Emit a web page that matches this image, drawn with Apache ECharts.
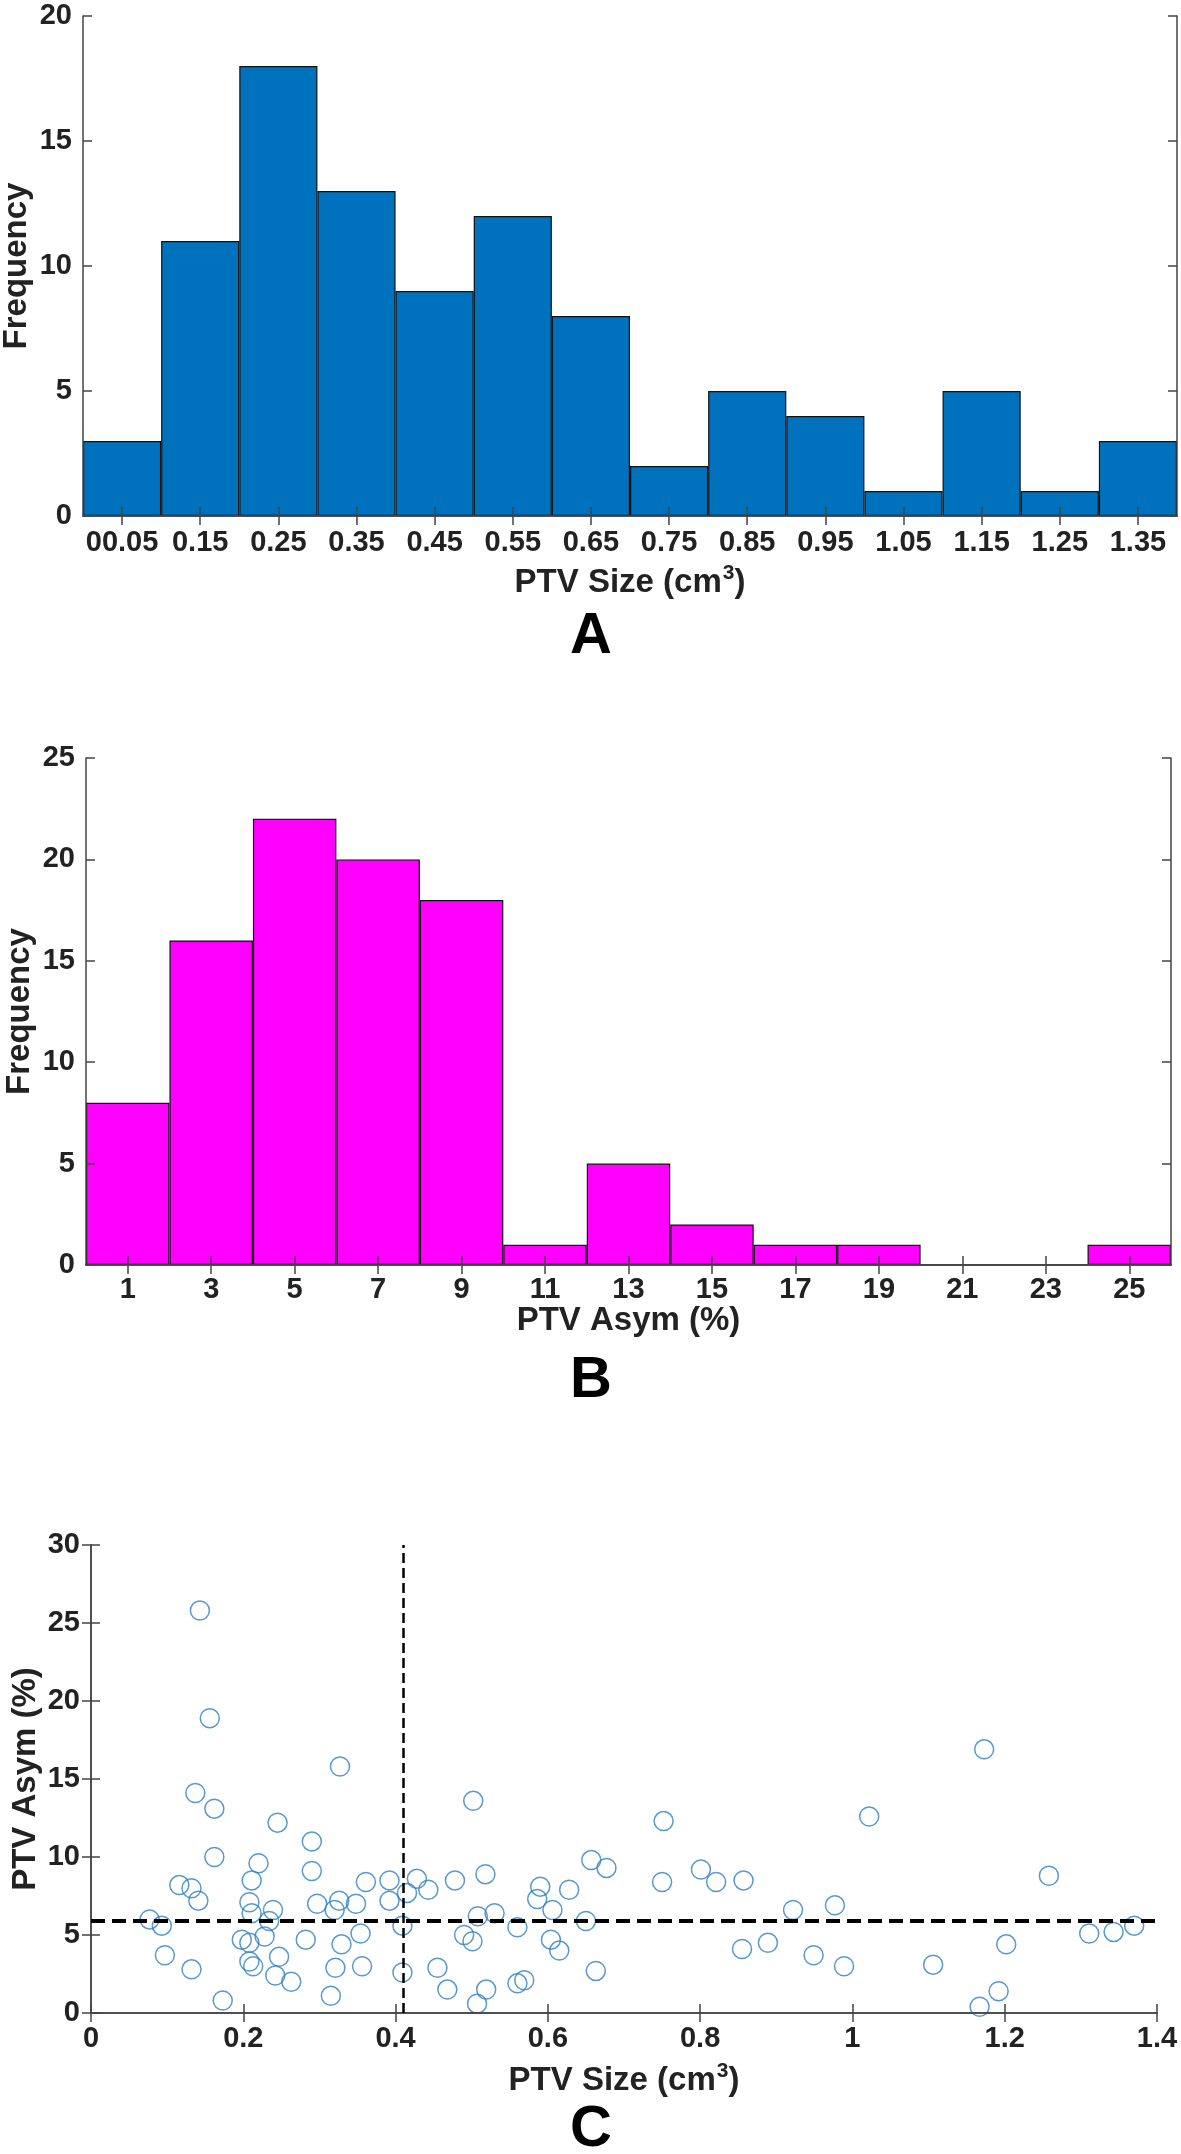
<!DOCTYPE html>
<html>
<head>
<meta charset="utf-8">
<style>
  html, body { margin: 0; padding: 0; background: #fff; }
  #main { width: 1181px; height: 2154px; }
</style>
<script src="https://cdn.jsdelivr.net/npm/echarts@6.0.0/dist/echarts.min.js"></script>
</head>
<body>
<div id="main"></div>
<script>
// A: PTV size histogram, 0.1 cm3 bins
var sizeBins = ['00.05', '0.15', '0.25', '0.35', '0.45', '0.55', '0.65', '0.75', '0.85', '0.95', '1.05', '1.15', '1.25', '1.35'];
var sizeCounts = [3, 11, 18, 13, 9, 12, 8, 2, 5, 4, 1, 5, 1, 3];

// B: PTV asymmetry histogram, 2 % bins
var asymBins = ['1', '3', '5', '7', '9', '11', '13', '15', '17', '19', '21', '23', '25'];
var asymCounts = [8, 16, 22, 20, 18, 1, 5, 2, 1, 1, 0, 0, 1];

// C: size vs asymmetry per case
var ptvSize = [0.143, 0.156, 0.327, 1.173, 0.137, 0.502, 0.162, 0.752, 1.022, 0.245,
  0.290, 0.162, 0.220, 0.657, 0.677, 0.290, 0.801, 1.258, 0.518, 0.116,
  0.211, 0.361, 0.392, 0.428, 0.478, 0.750, 0.821, 0.857, 0.590, 0.628,
  0.132, 0.443, 0.415, 0.141, 0.586, 0.208, 0.297, 0.326, 0.348, 0.392,
  0.977, 0.320, 0.922, 0.239, 0.606, 0.530, 0.211, 0.508, 0.077, 0.234,
  0.650, 0.409, 1.370, 0.093, 0.560, 0.354, 1.311, 1.343, 0.490, 0.228,
  0.198, 0.604, 0.501, 0.282, 0.889, 0.329, 0.208, 1.202, 0.855, 0.615,
  0.097, 0.949, 0.247, 0.208, 0.213, 1.106, 0.356, 0.989, 0.321, 0.455,
  0.132, 0.409, 0.663, 0.242, 0.263, 0.560, 0.569, 0.468, 0.519, 1.192,
  0.315, 0.173, 0.507, 1.167];
var ptvAsym = [25.8, 18.9, 15.8, 16.9, 14.1, 13.6, 13.1, 12.3, 12.6, 12.2,
  11.0, 10.0, 9.6, 9.8, 9.3, 9.1, 9.2, 8.8, 8.9, 8.2,
  8.5, 8.4, 8.5, 8.6, 8.5, 8.4, 8.4, 8.5, 8.1, 7.9,
  8.0, 7.9, 7.7, 7.2, 7.3, 7.1, 7.0, 7.2, 7.0, 7.2,
  6.9, 6.6, 6.6, 6.6, 6.6, 6.4, 6.4, 6.2, 6.0, 5.9,
  5.9, 5.6, 5.6, 5.6, 5.5, 5.1, 5.1, 5.2, 5.0, 4.9,
  4.7, 4.7, 4.6, 4.7, 4.5, 4.4, 4.5, 4.4, 4.1, 4.0,
  3.7, 3.7, 3.6, 3.3, 3.0, 3.1, 3.0, 3.0, 2.9, 2.9,
  2.8, 2.6, 2.7, 2.4, 2.0, 1.9, 2.1, 1.5, 1.5, 1.4,
  1.1, 0.8, 0.6, 0.4];
var sizeCut = 0.406; // vertical dashed line
var asymCut = 5.94;  // horizontal dashed line

var FONT = 'Liberation Sans, Arial, sans-serif';
var INK = '#222';
var AXIS = '#444';

var labelStyle = { fontSize: 29, fontWeight: 'bold', color: INK, fontFamily: FONT };
var nameStyle = { fontSize: 33, fontWeight: 'bold', color: INK, fontFamily: FONT };
var cm3Name = '{t|PTV Size (cm}{s|3}{t|)}';
var cm3Style = {
  rich: {
    t: { fontSize: 33, fontWeight: 'bold', color: INK, fontFamily: FONT, lineHeight: 40 },
    s: { fontSize: 21, fontWeight: 'bold', color: INK, fontFamily: FONT, verticalAlign: 'top', lineHeight: 40, padding: [0, 0, 14, 1] }
  }
};

// one side of a boxed (matlab style) axis
function boxAxis(kind, grid, pos, extra) {
  var ax = {
    gridIndex: grid,
    position: pos,
    z: 3,
    nameMoveOverlap: false,
    axisLine: { show: true, lineStyle: { color: AXIS, width: 1.5 } },
    axisTick: { show: true, inside: true, length: 9, lineStyle: { color: AXIS, width: 1.5 } },
    axisLabel: { show: false },
    splitLine: { show: false }
  };
  if (kind === 'x') {
    ax.axisTick.alignWithLabel = true;
  }
  return Object.assign(ax, extra);
}

var option = {
  animation: false,
  backgroundColor: '#fff',
  grid: [
    { left: 83, top: 16, width: 1094, height: 500, containLabel: false, outerBoundsMode: 'none' },
    { left: 86, top: 758, width: 1085, height: 507, containLabel: false, outerBoundsMode: 'none' },
    { left: 91, top: 1545, width: 1066, height: 468, containLabel: false, outerBoundsMode: 'none' }
  ],
  xAxis: [
    boxAxis('x', 0, 'bottom', {
      type: 'category', data: sizeBins,
      axisLabel: Object.assign({ show: true, interval: 0, margin: 12 }, labelStyle),
      name: cm3Name, nameLocation: 'middle', nameGap: 47, nameTextStyle: cm3Style
    }),
    boxAxis('x', 0, 'top', { type: 'category', data: sizeBins }),
    boxAxis('x', 1, 'bottom', {
      type: 'category', data: asymBins,
      axisLabel: Object.assign({ show: true, interval: 0, margin: 10 }, labelStyle),
      name: 'PTV Asym (%)', nameLocation: 'middle', nameGap: 39, nameTextStyle: nameStyle
    }),
    boxAxis('x', 1, 'top', { type: 'category', data: asymBins }),
    boxAxis('v', 2, 'bottom', {
      type: 'value', min: 0, max: 1.4, interval: 0.2,
      axisLabel: Object.assign({ show: true, margin: 11 }, labelStyle),
      name: cm3Name, nameLocation: 'middle', nameGap: 48, nameTextStyle: cm3Style
    }),
    boxAxis('v', 2, 'top', { type: 'value', min: 0, max: 1.4, interval: 0.2 })
  ],
  yAxis: [
    boxAxis('y', 0, 'left', {
      type: 'value', min: 0, max: 20, interval: 5,
      axisLabel: Object.assign({ show: true, margin: 11 }, labelStyle),
      name: 'Frequency', nameLocation: 'middle', nameRotate: 90, nameGap: 50, nameTextStyle: nameStyle
    }),
    boxAxis('y', 0, 'right', { type: 'value', min: 0, max: 20, interval: 5 }),
    boxAxis('y', 1, 'left', {
      type: 'value', min: 0, max: 25, interval: 5,
      axisLabel: Object.assign({ show: true, margin: 11 }, labelStyle),
      name: 'Frequency', nameLocation: 'middle', nameRotate: 90, nameGap: 50, nameTextStyle: nameStyle
    }),
    boxAxis('y', 1, 'right', { type: 'value', min: 0, max: 25, interval: 5 }),
    boxAxis('y', 2, 'left', {
      type: 'value', min: 0, max: 30, interval: 5,
      axisLabel: Object.assign({ show: true, margin: 11 }, labelStyle),
      name: 'PTV Asym (%)', nameLocation: 'middle', nameRotate: 90, nameGap: 49, nameTextStyle: nameStyle
    }),
    boxAxis('y', 2, 'right', { type: 'value', min: 0, max: 30, interval: 5 })
  ],
  series: [
    {
      type: 'bar', xAxisIndex: 0, yAxisIndex: 0, data: sizeCounts,
      barWidth: '100%', barCategoryGap: '0%',
      itemStyle: { color: '#0072BD', borderColor: '#111', borderWidth: 1.2 }
    },
    {
      type: 'bar', xAxisIndex: 2, yAxisIndex: 2, data: asymCounts,
      barWidth: '100%', barCategoryGap: '0%',
      itemStyle: { color: '#FF00FF', borderColor: '#111', borderWidth: 1.2 }
    },
    {
      type: 'scatter', xAxisIndex: 4, yAxisIndex: 4,
      data: ptvSize.map(function (x, i) { return [x, ptvAsym[i]]; }),
      symbol: 'circle', symbolSize: 19,
      itemStyle: { color: 'rgba(0,0,0,0)', borderColor: '#2f7fc1', borderWidth: 1.5 },
      markLine: {
        silent: true, symbol: 'none', label: { show: false },
        data: [
          { xAxis: sizeCut, lineStyle: { color: '#000', width: 2.5, type: [10, 5] } },
          { yAxis: asymCut, lineStyle: { color: '#000', width: 4, type: [14, 7] } }
        ]
      }
    }
  ],
  graphic: [
    { type: 'text', x: 591, y: 637, style: { text: 'A', fontSize: 58, fontWeight: 'bold', fontFamily: FONT, fill: '#000', align: 'center', verticalAlign: 'middle' } },
    { type: 'text', x: 591, y: 1381, style: { text: 'B', fontSize: 58, fontWeight: 'bold', fontFamily: FONT, fill: '#000', align: 'center', verticalAlign: 'middle' } },
    { type: 'text', x: 591, y: 2130, style: { text: 'C', fontSize: 58, fontWeight: 'bold', fontFamily: FONT, fill: '#000', align: 'center', verticalAlign: 'middle' } }
  ]
};

var chart = echarts.init(document.getElementById('main'), null, { renderer: 'canvas' });
chart.setOption(option);
</script>
</body>
</html>
